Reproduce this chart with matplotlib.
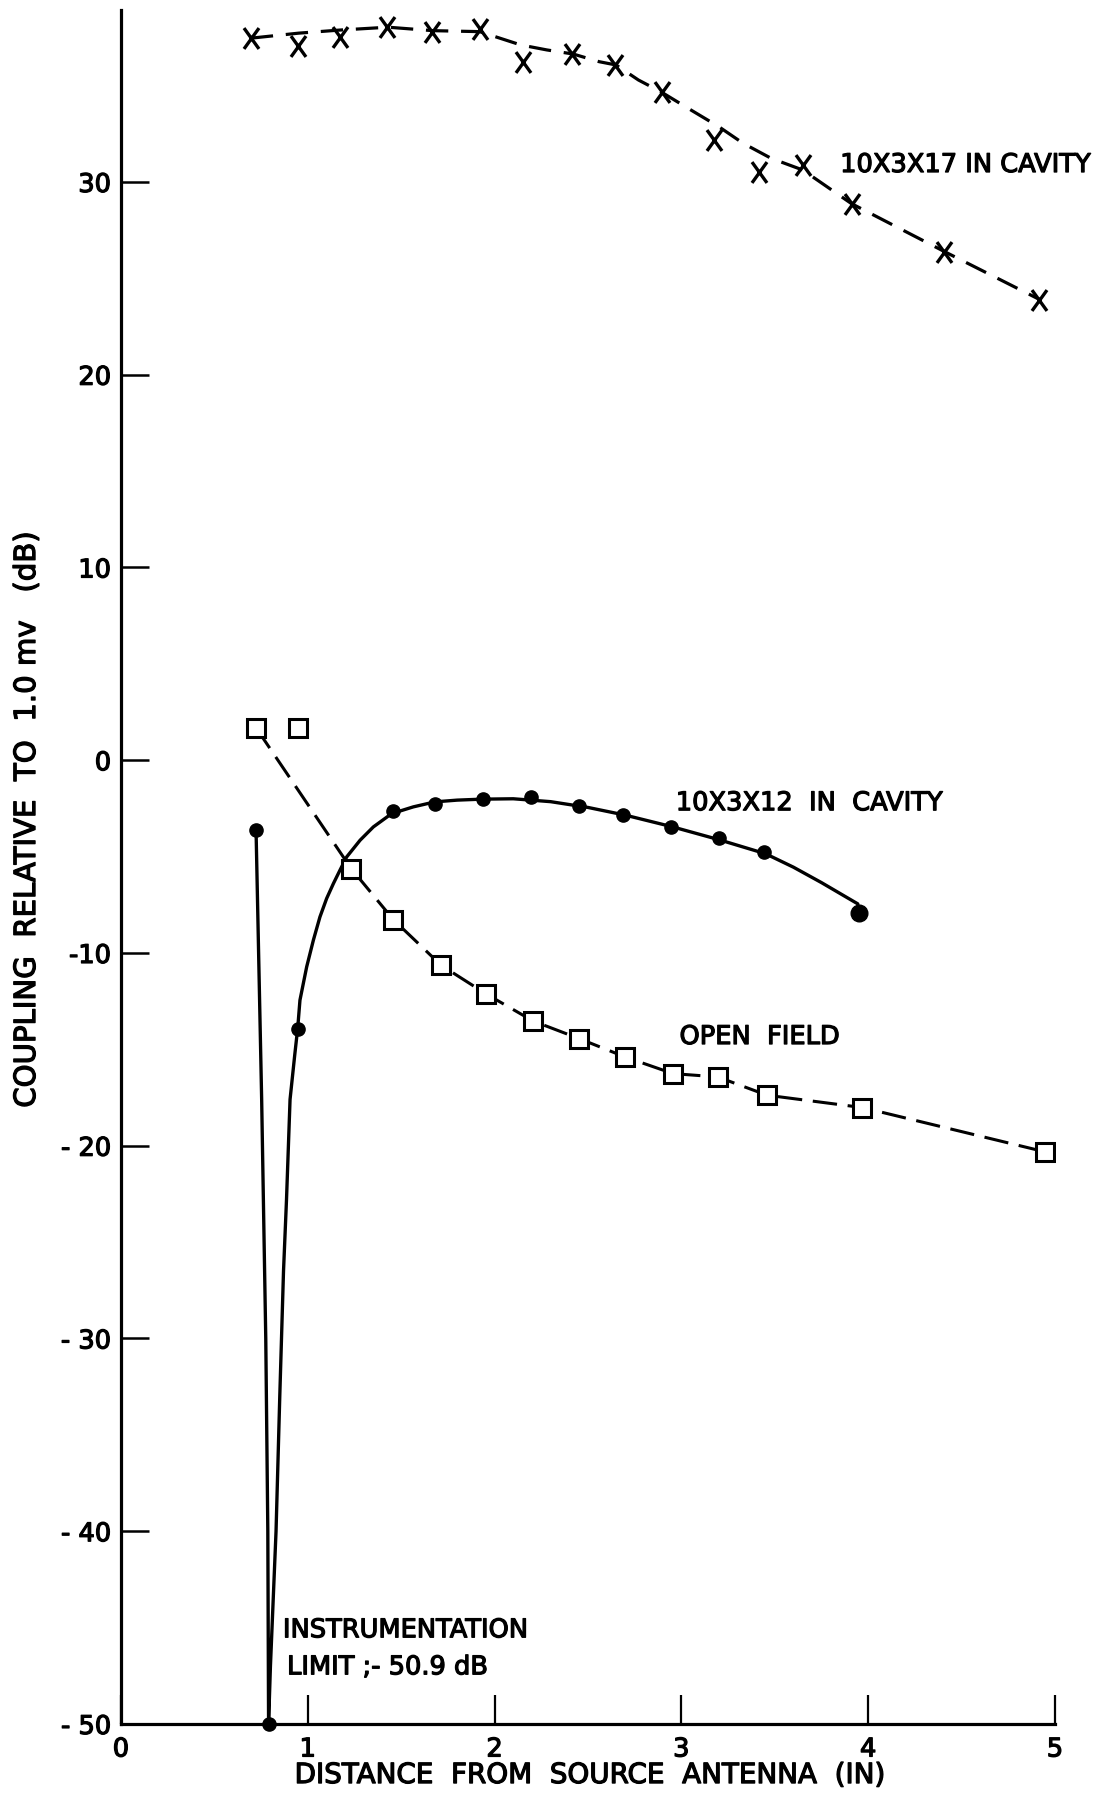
import matplotlib
matplotlib.use("Agg")
import matplotlib.pyplot as plt
import numpy as np
from matplotlib.path import Path
import matplotlib.patheffects as pe

plt.rcParams['font.family'] = ['DejaVu Sans']

# ---------------------------------------------------------------------------
# Measured coupling (dB re 1.0 mV) versus distance from the source antenna (in)
# ---------------------------------------------------------------------------

# 10 x 3 x 17 in cavity (X symbols)
cav17_x = [0.695, 0.948, 1.173, 1.426, 1.665, 1.921, 2.152, 2.415, 2.647,
           2.894, 3.172, 3.413, 3.651, 3.913, 4.408, 4.917]
cav17_y = [37.46, 37.06, 37.54, 38.03, 37.77, 37.92, 36.24, 36.64, 36.07,
           34.68, 32.18, 30.53, 30.89, 28.88, 26.38, 23.89]
# hand-faired dashed trend through the cavity-17 readings
cav17_fit_x = [0.695, 0.95, 1.17, 1.43, 1.67, 1.92, 2.14, 2.28, 2.42, 2.56,
               2.65, 2.77, 2.89, 3.05, 3.20, 3.33, 3.48, 3.65, 3.91, 4.41, 4.92]
cav17_fit_y = [37.46, 37.72, 37.88, 38.03, 37.85, 37.80, 37.11, 36.85, 36.64,
               36.24, 36.07, 35.29, 34.68, 33.74, 32.87, 32.01, 31.23, 30.62,
               28.88, 26.38, 23.89]

# 10 x 3 x 12 in cavity (filled dots); the reading at 0.79 in fell below
# the instrumentation limit
INSTRUMENT_LIMIT = -50.9
cav12_x = [0.723, 0.790, 0.950, 1.458, 1.683, 1.936, 2.193, 2.452, 2.687,
           2.946, 3.203, 3.444]
cav12_y = [-3.63, INSTRUMENT_LIMIT, -13.92, -2.65, -2.28, -2.02, -1.90, -2.38,
           -2.85, -3.46, -4.06, -4.76]
cav12_last_x = [3.953]
cav12_last_y = [-7.95]
# hand-faired solid trend through the cavity-12 readings
cav12_fit_x = [0.723, 0.753, 0.775, 0.786, 0.790, 0.800, 0.815, 0.830, 0.850,
               0.870, 0.886, 0.905, 0.930, 0.946, 0.958, 0.994, 1.030, 1.065,
               1.101, 1.137, 1.172, 1.208, 1.280, 1.351, 1.449, 1.565, 1.681,
               1.800, 1.931, 2.100, 2.300, 2.500, 2.700, 2.950, 3.200, 3.450,
               3.600, 3.750, 3.944, 3.953]
cav12_fit_y = [-3.63, -17.6, -30.0, -40.0, INSTRUMENT_LIMIT, -47.0, -43.5,
               -40.0, -33.0, -26.5, -22.8, -17.6, -15.3, -13.9, -12.45,
               -10.72, -9.33, -8.13, -7.17, -6.40, -5.71, -5.02, -4.15, -3.46,
               -2.77, -2.42, -2.16, -2.07, -2.02, -2.00, -2.15, -2.45, -2.85,
               -3.45, -4.12, -4.85, -5.55, -6.35, -7.45, -7.95]

# open field (open squares)
open_x = [0.723, 0.948, 1.232, 1.458, 1.714, 1.952, 2.206, 2.452, 2.700,
          2.956, 3.194, 3.459, 3.969, 4.948]
open_y = [1.68, 1.68, -5.62, -8.27, -10.64, -12.11, -13.53, -14.44, -15.40,
          -16.26, -16.43, -17.38, -18.02, -20.32]
open_on_trend = [True, False, True, True, True, True, True, True, True,
                 True, True, True, True, True]

x_ticks = [0, 1, 2, 3, 4, 5]
x_tick_labels = ['0', '1', '2', '3', '4', '5']
y_ticks = [-50, -40, -30, -20, -10, 0, 10, 20, 30]
y_tick_labels = ['- 50', '- 40', '- 30', '- 20', '-10', '0', '10', '20', '30']

Y_MIN, Y_MAX = -50, 38.92

# ---------------------------------------------------------------------------
fig = plt.figure(figsize=(11.01, 17.93), dpi=100)
ax = fig.add_axes([0.1099, 0.0385, 0.8483, 0.9559])
ax.set_xlim(0, 5)
ax.set_ylim(Y_MIN, Y_MAX)


def floor(vals):
    # readings below the plotting floor are pinned to the bottom axis
    return np.clip(np.asarray(vals, dtype=float), Y_MIN, None)


ink = 'black'
bold = [pe.withStroke(linewidth=0.9, foreground=ink)]

# letter-style "X" marker: a little taller than wide
x_marker = Path([(-0.36, -0.5), (0.36, 0.5), (-0.36, 0.5), (0.36, -0.5)],
                [Path.MOVETO, Path.LINETO, Path.MOVETO, Path.LINETO])

# cavity 17
ax.plot(cav17_fit_x, cav17_fit_y, color=ink, lw=2.3, ls=(0, (7, 4)),
        zorder=2)
ax.plot(cav17_x, cav17_y, ls='none', marker=x_marker, ms=15, mew=2.4,
        mec=ink, zorder=4)

# cavity 12
ax.plot(cav12_fit_x, floor(cav12_fit_y), color=ink, lw=2.4,
        solid_joinstyle='round', zorder=3, clip_on=False)
ax.plot(cav12_x, floor(cav12_y), ls='none', marker='o', ms=9.5, mfc=ink,
        mec=ink, zorder=5, clip_on=False)
ax.plot(cav12_last_x, cav12_last_y, ls='none', marker='o', ms=12, mfc=ink,
        mec=ink, zorder=5)

# open field
ox = [x for x, k in zip(open_x, open_on_trend) if k]
oy = [y for y, k in zip(open_y, open_on_trend) if k]
ax.plot(ox, oy, color=ink, lw=2.2, ls=(0, (8, 3.5)), zorder=2)
ax.plot(open_x, open_y, ls='none', marker='s', ms=12.5, mfc='white',
        mec=ink, mew=2.2, zorder=4)

# curve annotations
lab = dict(fontsize=18.5, color=ink, ha='left', va='center',
           path_effects=bold)
ax.text(3.85, 30.88, '10X3X17 IN CAVITY', **lab)
ax.text(2.97, -2.23, '10X3X12  IN  CAVITY', **lab)
ax.text(2.99, -14.36, 'OPEN  FIELD', **lab)
ax.text(0.867, -45.14, 'INSTRUMENTATION', **lab)
ax.text(0.889, -47.06, 'LIMIT ;- 50.9 dB', **lab)

# axes frame
for side in ('top', 'right'):
    ax.spines[side].set_visible(False)
for side in ('left', 'bottom'):
    ax.spines[side].set_linewidth(2.3)
    ax.spines[side].set_color(ink)

ax.set_xticks(x_ticks)
ax.set_xticklabels(x_tick_labels)
ax.set_yticks(y_ticks)
ax.set_yticklabels(y_tick_labels)
ax.tick_params(axis='x', direction='in', length=21, width=1.6, pad=9,
               labelsize=18.5, colors=ink)
ax.tick_params(axis='y', direction='in', length=20, width=1.8, pad=7,
               labelsize=18.5, colors=ink)
for t in ax.get_xticklabels() + ax.get_yticklabels():
    t.set_path_effects(bold)

ax.set_xlabel('DISTANCE  FROM  SOURCE  ANTENNA  (IN)', fontsize=20,
              path_effects=bold)
ax.xaxis.set_label_coords(0.502, -0.0298)
ax.xaxis.label.set_va('center')

ax.set_ylabel('COUPLING  RELATIVE  TO  1.0 mv   (dB)', fontsize=21,
              path_effects=bold)
ax.yaxis.set_label_coords(-0.1006, 0.5274)
ax.yaxis.label.set_va('center')

fig.savefig('out.png', dpi=100, facecolor='white')
